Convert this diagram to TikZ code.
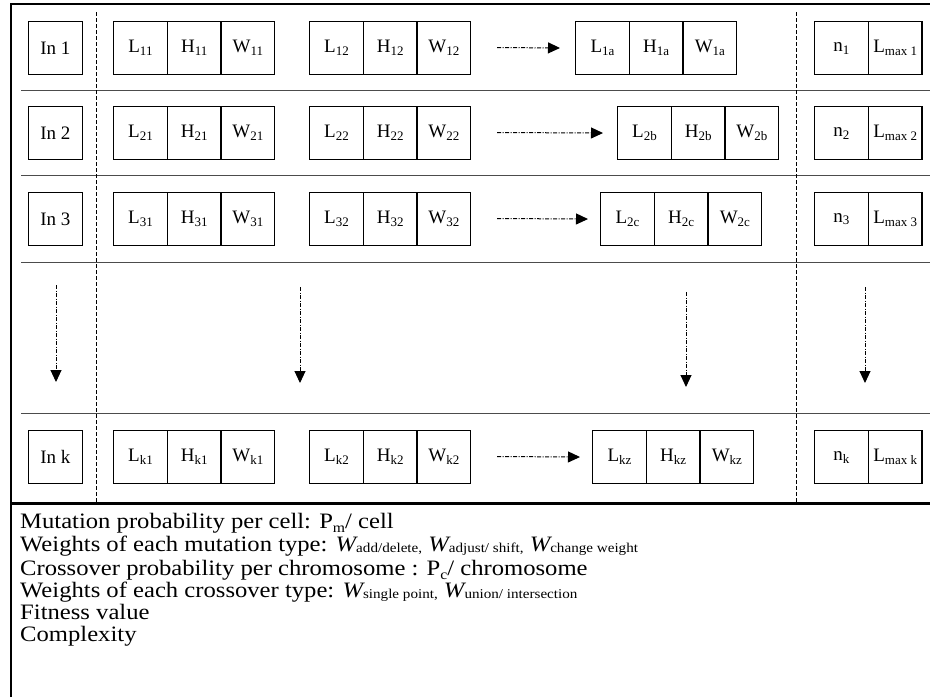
\documentclass[tikz,border=0pt]{standalone}
\usepackage{fontspec}
\setmainfont{Liberation Serif}
\newfontfamily\widefont[FakeStretch=1.12]{Liberation Serif}
\usetikzlibrary{arrows.meta}
\newcommand\lbl[2]{#1\raisebox{-0.15em}{\fontsize{13}{13}\selectfont #2}}
\newcommand\bsub[1]{\raisebox{-0.2em}{\fontsize{14}{14}\selectfont #1}}
\newcommand\wsub[1]{{\fontsize{22}{22}\selectfont\itshape W}\raisebox{-0.08em}{\fontsize{13.5}{13.5}\selectfont #1}}
\begin{document}
\begin{tikzpicture}[x=1pt,y=-1pt,
 cell/.style={draw,line width=1.2pt,minimum width=53.7pt,minimum height=53pt,inner sep=0pt,
   font=\fontsize{19}{19}\selectfont,anchor=north west},
 sepline/.style={line width=1pt,draw=black!70},
 vdash/.style={line width=1pt,dash pattern=on 4pt off 2pt},
 flow/.style={line width=1pt,dash pattern=on 4pt off 1.5pt on 1pt off 1.5pt,
   -{Triangle[length=12pt,width=11pt]}},
 frameline/.style={line width=2.5pt},
 txt/.style={anchor=base west,inner sep=0pt,font=\widefont\fontsize{22}{22}\selectfont}]
\useasboundingbox (0,0) rectangle (930,697);
% frame
\draw[frameline] (11,697) -- (11,4) -- (930,4);
\draw[line width=3pt] (11,503) -- (930,503);
% separators
\foreach \yy in {90,175,262,413} \draw[sepline] (21,\yy) -- (930,\yy);
% dashed dividers
\draw[vdash] (96,12) -- (96,502);
\draw[vdash] (796,12) -- (796,502);
% row 1
\node[cell] (in1) at (28,21) {In 1};
\node[cell] (L11) at (113,21) {\lbl{L}{11}};
\node[cell] (H11) at (166.7,21) {\lbl{H}{11}};
\node[cell] (W11) at (220.4,21) {\lbl{W}{11}};
\node[cell] (L12) at (309,21) {\lbl{L}{12}};
\node[cell] (H12) at (362.7,21) {\lbl{H}{12}};
\node[cell] (W12) at (416.4,21) {\lbl{W}{12}};
\node[cell] (L1a) at (575,21) {\lbl{L}{1a}};
\node[cell] (H1a) at (628.7,21) {\lbl{H}{1a}};
\node[cell] (W1a) at (682.4,21) {\lbl{W}{1a}};
\node[cell] (n1) at (814,21) {\lbl{n}{1}};
\node[cell] (M1) at (867.7,21) {\lbl{L}{max 1}};
% row 2
\node[cell] (in2) at (28,106) {In 2};
\node[cell] (L21) at (113,106) {\lbl{L}{21}};
\node[cell] (H21) at (166.7,106) {\lbl{H}{21}};
\node[cell] (W21) at (220.4,106) {\lbl{W}{21}};
\node[cell] (L22) at (309,106) {\lbl{L}{22}};
\node[cell] (H22) at (362.7,106) {\lbl{H}{22}};
\node[cell] (W22) at (416.4,106) {\lbl{W}{22}};
\node[cell] (L2b) at (617,106) {\lbl{L}{2b}};
\node[cell] (H2b) at (670.7,106) {\lbl{H}{2b}};
\node[cell] (W2b) at (724.4,106) {\lbl{W}{2b}};
\node[cell] (n2) at (814,106) {\lbl{n}{2}};
\node[cell] (M2) at (867.7,106) {\lbl{L}{max 2}};
% row 3
\node[cell] (in3) at (28,192) {In 3};
\node[cell] (L31) at (113,192) {\lbl{L}{31}};
\node[cell] (H31) at (166.7,192) {\lbl{H}{31}};
\node[cell] (W31) at (220.4,192) {\lbl{W}{31}};
\node[cell] (L32) at (309,192) {\lbl{L}{32}};
\node[cell] (H32) at (362.7,192) {\lbl{H}{32}};
\node[cell] (W32) at (416.4,192) {\lbl{W}{32}};
\node[cell] (L2c) at (600,192) {\lbl{L}{2c}};
\node[cell] (H2c) at (653.7,192) {\lbl{H}{2c}};
\node[cell] (W2c) at (707.4,192) {\lbl{W}{2c}};
\node[cell] (n3) at (814,192) {\lbl{n}{3}};
\node[cell] (M3) at (867.7,192) {\lbl{L}{max 3}};
% row k
\node[cell] (ink) at (28,430) {In k};
\node[cell] (Lk1) at (113,430) {\lbl{L}{k1}};
\node[cell] (Hk1) at (166.7,430) {\lbl{H}{k1}};
\node[cell] (Wk1) at (220.4,430) {\lbl{W}{k1}};
\node[cell] (Lk2) at (309,430) {\lbl{L}{k2}};
\node[cell] (Hk2) at (362.7,430) {\lbl{H}{k2}};
\node[cell] (Wk2) at (416.4,430) {\lbl{W}{k2}};
\node[cell] (Lkz) at (592,430) {\lbl{L}{kz}};
\node[cell] (Hkz) at (645.7,430) {\lbl{H}{kz}};
\node[cell] (Wkz) at (699.4,430) {\lbl{W}{kz}};
\node[cell] (nk) at (814,430) {\lbl{n}{k}};
\node[cell] (Mk) at (867.7,430) {\lbl{L}{max k}};
% horizontal arrows
\coordinate (h1) at (497,47.5);
\coordinate (h2) at (497,132.5);
\coordinate (h3) at (497,218.5);
\coordinate (hk) at (497,456.5);
\draw[flow,shorten >=15pt] (h1) -- (L1a.west);
\draw[flow,shorten >=14pt] (h2) -- (L2b.west);
\draw[flow,shorten >=12pt] (h3) -- (L2c.west);
\draw[flow,shorten >=12pt] (hk) -- (Lkz.west);
% vertical arrows
\coordinate (va1) at (56,285);  \coordinate (vb1) at (56,382);
\coordinate (va2) at (300,287); \coordinate (vb2) at (300,383);
\coordinate (va3) at (686,292); \coordinate (vb3) at (686,387);
\coordinate (va4) at (865,287); \coordinate (vb4) at (865,383);
\draw[flow] (va1) -- (vb1);
\draw[flow] (va2) -- (vb2);
\draw[flow] (va3) -- (vb3);
\draw[flow] (va4) -- (vb4);
% bottom text
\node[txt] (t1) at (20,528) {Mutation probability per cell: P\bsub{m}/ cell};
\node[txt] (t2) at (20,551) {Weights of each mutation type: \wsub{add/delete,} \wsub{adjust/ shift,} \wsub{change weight}};
\node[txt] (t3) at (20,575) {Crossover probability per chromosome : P\bsub{c}/ chromosome};
\node[txt] (t4) at (20,597) {Weights of each crossover type: \wsub{single point,} \wsub{union/ intersection}};
\node[txt] (t5) at (20,619) {Fitness value};
\node[txt] (t6) at (20,641) {Complexity};
\end{tikzpicture}
\end{document}
